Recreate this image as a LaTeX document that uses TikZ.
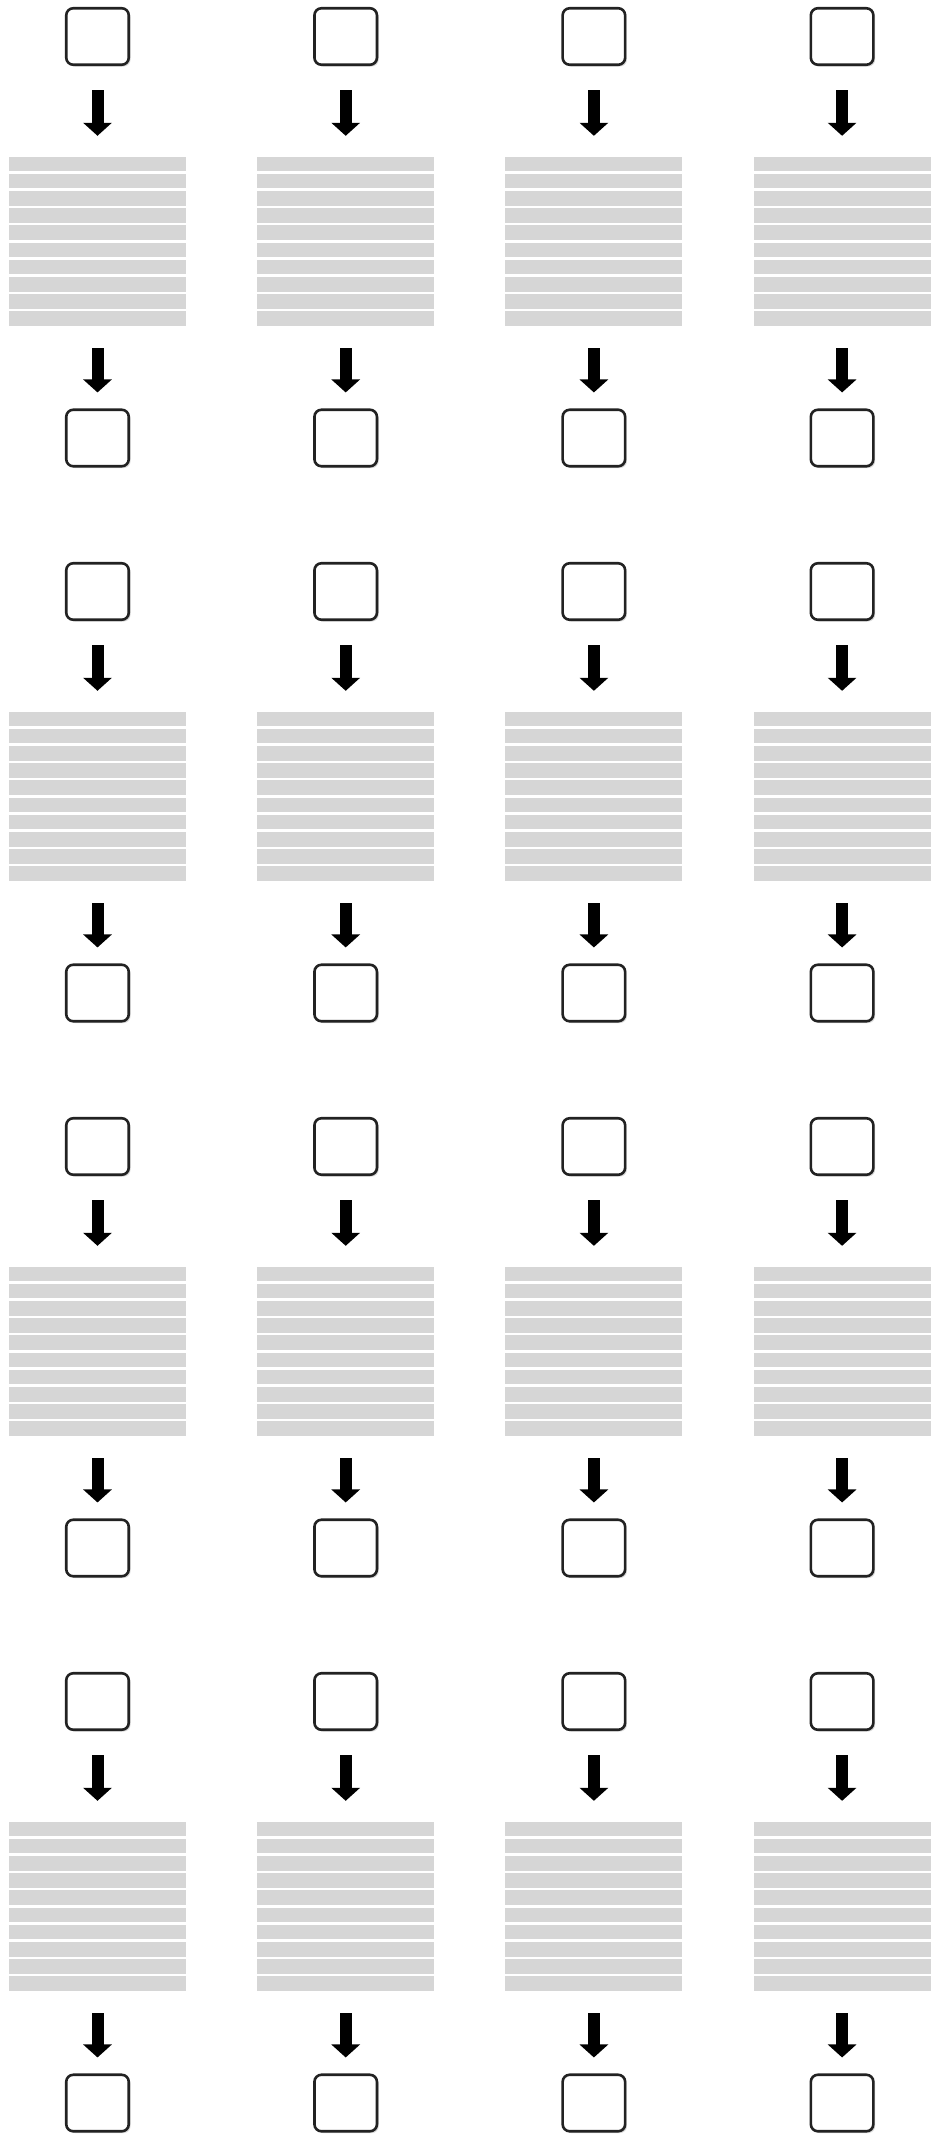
\documentclass[tikz,border=0pt]{standalone}
\usetikzlibrary{arrows.meta,shadows}

\definecolor{stripeGray}{RGB}{214,214,214}
\definecolor{boxLine}{RGB}{34,34,34}

\begin{document}
\begin{tikzpicture}
[x=1pt,y=-1pt,
  every node/.style={inner sep=0pt},%
  termBox/.style={draw=boxLine,line width=2.6pt,rounded corners=7pt,fill=white,
    minimum width=62.5pt,minimum height=56.5pt,
    drop shadow={opacity=0.3,shadow xshift=1.8pt,shadow yshift=-1.8pt}},
  stripeBlock/.style={fill=stripeGray,minimum width=177pt,minimum height=169pt},
  stripeGap/.style={white,line width=2.6pt},
  blockArrow/.style={-{Triangle[width=28pt,length=13pt]},line width=12pt,black}]
\useasboundingbox (0,0) rectangle (933,2138);
\foreach \row in {0,...,3}
{
  \foreach \col in {0,...,3}
  {
    \pgfmathsetmacro{\xPos}{97.5+248.2*\col}
    \pgfmathsetmacro{\yPos}{555*\row}
    \node[termBox] (top\row\col) at (\xPos,36.5+\yPos) {};
    \node[stripeBlock] (strip\row\col) at (\xPos,241.5+\yPos) {};
    \node[termBox] (bottom\row\col) at (\xPos,438+\yPos) {};
    % white gaps between the grey bars
    \foreach \k in {1,...,9}
    {
      \draw[stripeGap] ([yshift=1.5pt-17.2pt*\k]strip\row\col.north west) --
        ([yshift=1.5pt-17.2pt*\k]strip\row\col.north east);
    }
    \draw[blockArrow,shorten <=24pt,shorten >=21pt] (top\row\col) -- (strip\row\col);
    \draw[blockArrow,shorten <=22pt,shorten >=16pt] (strip\row\col) -- (bottom\row\col);
  }
}
\end{tikzpicture}
\end{document}
